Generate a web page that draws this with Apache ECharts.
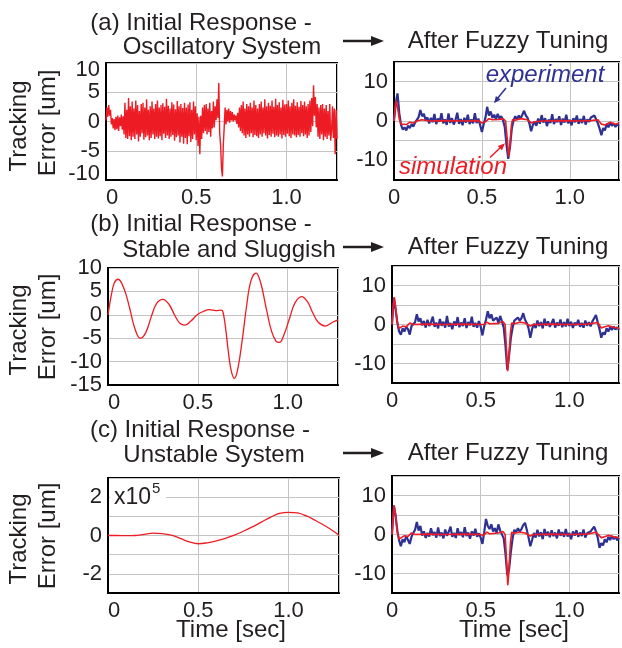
<!DOCTYPE html>
<html>
<head>
<meta charset="utf-8">
<script src="https://cdn.jsdelivr.net/npm/echarts@6/dist/echarts.min.js"></script>
<style>
  html, body { margin: 0; padding: 0; background: #fff; }
  #chart { width: 622px; height: 648px; }
</style>
</head>
<body>
<div id="chart"></div>
<script>
// ---- data ----
var STEP_A = 0.005;   // sampling of the initial oscillatory response
var STEP_EXP = 0.01;  // sampling of the experiment traces

// (a) initial response - oscillatory system [um]
var initOsc = [
  0.2, 2.4, 0.8, 2.8, 1.0, 2.0, -0.5, 0.6, -1.2, 0.4,
  -1.5, 0.8, -1.3, 1.0, -1.6, 0.7, -0.8, 1.2, -1.4, 0.9,
  -2.2, 3.2, -2.8, 2.0, -3.0, 4.0, -2.5, 2.6, -3.2, 3.4,
  -2.6, 2.2, -3.0, 3.6, -2.2, 2.8, -3.4, 1.8, -2.6, 3.0,
  -2.0, 3.2, -3.1, 2.4, -2.7, 3.8, -2.4, 2.0, -3.2, 2.6,
  -2.8, 3.4, -2.2, 2.2, -3.0, 3.0, -2.6, 3.6, -2.9, 2.4,
  -2.5, 2.8, -3.2, 3.1, -2.1, 2.5, -2.8, 3.9, -2.4, 2.7,
  -3.0, 2.2, -2.6, 3.3, -2.3, 2.9, -3.3, 2.1, -2.7, 3.5,
  -2.4, 2.6, -3.6, 3.0, -2.6, 2.3, -3.8, 3.2, -2.8, 2.4,
  -3.9, 2.9, -2.5, 3.3, -3.5, 2.0, -3.0, 3.4, -2.2, 2.6,
  -3.2, 1.4, -4.2, 0.8, -5.6, 1.0, -3.0, 2.4, -2.0, 2.8,
  -1.6, 3.0, -2.2, 2.2, -1.8, 3.2, -2.6, 1.8, -1.2, 3.4,
  -1.0, 2.6, 0.2, 3.8, 0.6, 6.6, -2.0, -4.0, -8.0, -9.4,
  -4.0, -1.0, 2.4, -0.5, 2.0, 0.0, 2.2, -0.2, 1.8, 0.2,
  1.6, 0.0, 1.2, 0.2, 1.0, -0.4, 1.5, -1.0, 2.4, -1.6,
  2.8, -2.0, 3.4, -2.4, 2.2, -2.8, 3.0, -2.2, 2.6, -2.6,
  3.2, -2.0, 2.4, -2.7, 3.6, -2.3, 2.8, -2.5, 2.2, -2.8,
  3.0, -2.2, 3.4, -2.6, 2.4, -2.0, 3.8, -2.4, 2.6, -2.9,
  3.2, -2.3, 2.7, -2.6, 3.6, -2.1, 2.5, -2.7, 3.9, -2.4,
  2.8, -2.6, 3.3, -2.2, 2.4, -2.9, 3.7, -2.3, 2.9, -2.6,
  3.0, -2.1, 3.6, -2.5, 2.6, -2.8, 3.2, -2.2, 3.8, -2.4,
  2.7, -2.7, 3.3, -2.3, 2.5, -2.6, 3.5, -2.0, 2.8, -2.5,
  3.4, -2.2, 2.6, -2.8, 3.0, -2.4, 3.6, -1.8, 4.0, -0.8,
  6.2, 1.0, 4.2, -1.0, 3.0, -2.6, 2.4, -3.0, 2.8, -2.2,
  3.0, -3.2, 2.2, -2.6, 2.8, -3.0, 1.8, -2.4, 3.0, -3.3,
  -1.6, 2.6, -2.8, 2.2, -5.6, 2.0, -3.0
];

// (b) initial response - stable and sluggish [time, um]
var initSluggish = [
  [0, 0], [0.02, 4.5], [0.035, 6.8], [0.056, 7.6], [0.09, 5.5], [0.12, 1.5],
  [0.15, -3.0], [0.18, -5.0], [0.21, -3.8], [0.24, -0.5], [0.27, 2.4],
  [0.305, 3.3], [0.34, 2.2], [0.37, 0], [0.40, -1.8], [0.43, -2.2],
  [0.46, -1.4], [0.5, 0.1], [0.53, 0.7], [0.565, 1.1], [0.6, 0.9],
  [0.63, 1.0], [0.64, 0.6], [0.655, -3], [0.67, -8], [0.685, -11.8],
  [0.703, -13.6], [0.72, -12], [0.745, -6], [0.77, 1.5], [0.795, 7.2],
  [0.824, 8.9], [0.85, 6.8], [0.88, 1.5], [0.91, -3.5], [0.935, -5.6],
  [0.954, -5.9], [0.98, -4.2], [1.01, -0.8], [1.04, 2.5], [1.078, 3.9],
  [1.11, 2.8], [1.14, 0.4], [1.17, -1.6], [1.21, -2.4], [1.25, -1.6],
  [1.28, -1.1]
];

// (c) initial response - unstable system [time, x10^5 um]
var initUnstable = [
  [0, 0], [0.05, 0], [0.1, -0.01], [0.15, 0], [0.2, 0.06], [0.25, 0.12],
  [0.3, 0.1], [0.35, 0.02], [0.4, -0.15], [0.45, -0.33], [0.5, -0.43],
  [0.55, -0.38], [0.6, -0.28], [0.65, -0.15], [0.7, 0.02], [0.75, 0.22],
  [0.8, 0.45], [0.85, 0.7], [0.9, 0.95], [0.95, 1.15], [1.0, 1.21],
  [1.05, 1.18], [1.1, 1.02], [1.15, 0.78], [1.2, 0.52], [1.25, 0.22],
  [1.28, 0]
];

// after fuzzy tuning: experiment traces [um], one value per STEP_EXP
var expA = [
  0, 4.5, 7.0, 2.0, -1.0, -2.2, -1.6, -2.4, -1.2, -1.8,
  -0.8, -1.4, -0.4, -0.9, 1.0, 2.8, 1.2, 1.8, 0.2, 0.9,
  -0.6, 0.8, -0.3, 1.8, -0.8, 0.6, -0.2, 2.0, -0.6, 0.4,
  -1.0, 1.9, -0.5, 0.7, -0.9, 0.3, 2.1, -0.7, 0.5, -1.1,
  0.8, -0.4, 1.6, -0.8, 0.4, -0.6, 2.0, -0.5, 0.6, -1.0,
  -2.8, -0.8, 0.8, 3.6, 1.4, 2.4, 0.8, 1.6, 0.4, 1.8,
  0.6, 1.2, 0.2, -1.5, -6.0, -9.6, -6.5, -2.0, 0.2, 1.2,
  0.4, 1.4, 0.6, 1.6, 2.6, 1.4, 0.8, -0.6, -2.6, -1.0,
  -0.2, -1.2, 0.6, -0.7, 1.5, -0.4, 0.7, -1.3, 0.4, -0.5,
  1.7, -0.8, 0.5, -0.3, 1.2, -1.0, 0.6, -0.4, 1.6, -0.6,
  0.3, -1.1, 0.7, -0.3, 1.4, -0.7, 0.5, -0.5, 1.3, -0.9,
  0.4, -0.2, 0.9, 0.5, 1.4, 1.0, -0.6, -2.0, -3.6, -1.8,
  -2.4, -0.8, -1.6, -0.4, -1.2, -0.6, -1.5, -0.8, -1.2
];
var expB = [
  0, 6.8, 4.0, 0.5, -1.8, -2.6, -1.0, -1.8, -0.6, -1.2,
  -2.6, -0.4, -0.9, 0.6, 2.6, 0.8, 1.6, -0.2, 0.9, -0.8,
  1.2, -0.4, 0.6, 2.0, -0.6, 0.5, -1.0, 1.4, -0.3, 0.7,
  -0.8, 2.2, -0.5, 0.4, -1.2, 0.8, -0.3, 1.9, -0.7, 0.5,
  -0.4, 1.6, -0.9, 0.6, -0.2, 2.0, -0.6, 0.4, -0.8, 0.9,
  -0.5, -2.8, -0.4, 1.2, 3.4, 1.6, 2.6, 1.0, 0.6, 1.8,
  0.4, 2.2, 0.8, -0.8, -5.5, -11.6, -8.0, -3.5, -0.8, 1.0,
  0.6, 1.8, 1.0, 1.6, 2.9, 1.2, 0.4, -1.0, -3.4, -1.2,
  0.2, -0.9, 1.0, -0.4, 0.6, -1.0, 1.5, -0.3, 0.8, -0.6,
  0.4, 1.4, -0.8, 0.5, -0.3, 1.3, -0.7, 0.6, -0.5, 1.5,
  -0.4, 0.7, -0.9, 0.5, -0.2, 1.2, -0.6, 0.4, -0.8, 1.0,
  -0.3, 0.6, -0.5, 0.8, 1.6, 2.4, 0.6, -1.2, -3.4, -2.0,
  -2.6, -1.0, -1.8, -0.6, -1.4, -0.5, -1.3, -0.7, -1.4
];
var expC = [
  0, 7.4, 5.0, 1.0, -1.5, -3.0, -1.2, -2.0, -0.4, -1.4,
  -2.4, -0.6, 0.4, 1.2, 3.2, 1.0, 2.2, -0.3, 0.8, -0.9,
  0.4, -0.5, 1.6, -0.2, 0.6, -0.8, 1.8, -0.4, 0.5, -1.0,
  1.3, -0.3, 0.7, 2.0, -0.6, 0.4, -0.9, 1.6, -0.2, 0.6,
  -0.7, 1.9, -0.4, 0.5, -1.1, 0.8, -0.3, 1.5, -0.6, 0.3,
  -0.8, -2.4, 0.6, 4.0, 2.2, 1.4, 2.6, 0.8, 1.6, 0.4,
  2.6, 1.0, 0.6, -1.0, -5.0, -10.4, -9.0, -4.5, -1.0, 1.2,
  0.6, 1.6, 0.8, 1.4, 2.4, 3.0, 1.2, -0.8, -3.0, -1.4,
  0.4, -0.8, 1.2, -0.5, 0.6, -1.2, 1.4, -0.3, 0.7, -0.7,
  1.1, -0.4, 0.5, -1.0, 1.3, -0.3, 0.6, -0.6, 1.4, -0.5,
  0.4, -1.2, 0.8, -0.3, 1.1, -0.6, 0.5, -0.4, 1.3, -0.8,
  0.3, -0.2, 0.8, 1.2, 2.0, 0.8, -0.8, -3.4, -2.2, -2.8,
  -1.2, -2.0, -0.6, -1.4, -0.4, -1.2, -0.6, -1.5, -0.9
];

// after fuzzy tuning: simulation traces [time, um]
var simA = [
  [0, 0], [0.005, 2.5], [0.012, 5.2], [0.02, 3.5], [0.03, 0.5], [0.04, -0.8],
  [0.05, -0.6], [0.07, -0.9], [0.09, -0.3], [0.11, -0.5], [0.13, 0], [0.16, 0.3],
  [0.2, 0], [0.3, 0.1], [0.4, 0], [0.48, 0.1], [0.5, -0.5], [0.52, -0.2],
  [0.54, 0.6], [0.56, 0.3], [0.6, 0.4], [0.62, 0.6], [0.635, 0], [0.645, -5],
  [0.652, -9], [0.66, -6], [0.668, -1], [0.675, 0.4], [0.69, 0.2], [0.72, 0.6],
  [0.76, 0.3], [0.78, -0.5], [0.8, -0.2], [0.85, 0], [0.95, 0.1], [1.05, 0],
  [1.12, 0.1], [1.16, 0.3], [1.18, -0.8], [1.2, -1.0], [1.23, -0.3], [1.26, -0.8],
  [1.28, -0.5]
];
var simB = [
  [0, 0], [0.006, 4], [0.013, 7], [0.02, 4.5], [0.03, 0.5], [0.04, -1.0],
  [0.05, -0.7], [0.06, -0.4], [0.08, -0.6], [0.1, 0.4], [0.12, 0], [0.2, 0.1],
  [0.3, 0], [0.4, 0.1], [0.5, 0], [0.52, 0], [0.535, 0.6], [0.55, 0.2],
  [0.6, 0.3], [0.625, 0.8], [0.638, 0], [0.645, -6], [0.652, -12], [0.66, -8],
  [0.668, -2], [0.675, 0.4], [0.69, 0.2], [0.72, 0.6], [0.75, 0.4], [0.78, -0.4],
  [0.8, 0], [0.9, 0.1], [1.0, 0], [1.1, 0.1], [1.16, 0.5], [1.18, -0.9],
  [1.2, -0.6], [1.22, -0.3], [1.25, -0.7], [1.28, -1.0]
];
var simC = [
  [0, 0], [0.006, 4], [0.012, 7.5], [0.02, 5], [0.03, 0.5], [0.04, -1.2],
  [0.05, -0.8], [0.07, -0.3], [0.09, -0.5], [0.11, 0.4], [0.13, 0], [0.2, 0.1],
  [0.3, 0], [0.4, 0.1], [0.5, 0], [0.515, -0.3], [0.535, 0.6], [0.55, 0.2],
  [0.6, 0.4], [0.625, 0.8], [0.638, 0], [0.645, -6], [0.653, -13], [0.66, -9],
  [0.668, -2], [0.675, 0.6], [0.69, 0.3], [0.72, 0.6], [0.75, 0.4], [0.78, -0.4],
  [0.8, 0], [0.9, 0.1], [1.0, 0], [1.1, 0.1], [1.15, 0.6], [1.18, -0.8],
  [1.2, -0.6], [1.22, -0.2], [1.25, -0.6], [1.28, -0.8]
];

var xTickLabels = { 0: '0', 0.5: '0.5', 1: '1.0' };

// ---- styling ----
var RED = '#ed1c24';
var BLUE = '#2e3192';
var INK = '#231f20';
var FONT = 'Liberation Sans, Arial, sans-serif';

function sampled(values, step) {
  return values.map(function (v, i) { return [+(i * step).toFixed(4), v]; });
}

var grids = [
  { left: 106, top: 63, width: 231, height: 117 },   // a left
  { left: 394, top: 62, width: 230, height: 118 },   // a right
  { left: 108, top: 268, width: 230, height: 117 },  // b left
  { left: 392, top: 266, width: 230, height: 117 },  // b right
  { left: 108, top: 478, width: 231, height: 115 },  // c left
  { left: 392, top: 476, width: 230, height: 117 }   // c right
].map(function (g) {
  return Object.assign({ show: true, borderColor: '#000', borderWidth: 2, backgroundColor: 'transparent' }, g);
});

function xAxis(i, leftCol) {
  return {
    type: 'value', gridIndex: i, min: 0, max: 1.28, interval: 0.5,
    axisLine: { show: true, onZero: false, lineStyle: { color: '#000', width: 2 } },
    axisTick: { show: false },
    splitLine: { show: true, lineStyle: { color: '#c4c4c4', width: 1 } },
    axisLabel: {
      fontSize: 22, color: INK, fontFamily: FONT, margin: 7,
      alignMinLabel: leftCol ? 'left' : 'center',
      formatter: function (v) { return xTickLabels[v] !== undefined ? xTickLabels[v] : ''; }
    }
  };
}

function yAxis(i, min, max, interval, labelEvery) {
  return {
    type: 'value', gridIndex: i, min: min, max: max, interval: interval,
    axisLine: { show: true, onZero: false, lineStyle: { color: '#000', width: 2 } },
    axisTick: { show: false },
    splitLine: { show: true, lineStyle: { color: '#c4c4c4', width: 1 } },
    axisLabel: {
      fontSize: 22, color: INK, fontFamily: FONT, margin: 6,
      showMinLabel: true, showMaxLabel: true,
      formatter: function (v) { return Math.abs(v % labelEvery) < 1e-9 ? String(v) : ''; }
    }
  };
}

// panel (a) left: the edge labels sit a little inside the frame
var yOsc = yAxis(0, -10, 10, 5, 5);
var edgeStyle = { fontSize: 22, color: INK, fontFamily: FONT };
yOsc.axisLabel.formatter = function (v) {
  if (v === 10) return '{dn|10}';
  if (v === -10) return '{up|-10}';
  return String(v);
};
yOsc.axisLabel.rich = {
  dn: Object.assign({ padding: [14, 0, 0, 0] }, edgeStyle),
  up: Object.assign({ padding: [0, 0, 12, 0] }, edgeStyle)
};

function line(i, data, color, width, z) {
  return {
    type: 'line', xAxisIndex: i, yAxisIndex: i, data: data,
    showSymbol: false, symbol: 'none', z: z || 2,
    lineStyle: { color: color, width: width }
  };
}

function txt(x, y, s, opts) {
  opts = opts || {};
  return {
    type: 'text', x: x, y: y, z: 100, rotation: opts.rotation || 0,
    style: {
      text: s, fill: opts.fill || INK,
      font: (opts.italic ? 'italic ' : '') + (opts.size || 24) + 'px ' + FONT,
      textAlign: opts.align || 'center', textVerticalAlign: 'middle'
    }
  };
}

function bigArrow(y) {
  return [
    { type: 'line', z: 100, shape: { x1: 343, y1: y, x2: 373, y2: y }, style: { stroke: INK, lineWidth: 2.5 } },
    { type: 'polygon', z: 100, shape: { points: [[384, y], [371, y - 5], [371, y + 5]] }, style: { fill: INK } }
  ];
}

var graphics = [
  // titles, left column
  txt(201, 23, '(a) Initial Response -'),
  txt(222, 47, 'Oscillatory System'),
  txt(201, 224, '(b) Initial Response -'),
  txt(229, 250, 'Stable and Sluggish'),
  txt(200, 430, '(c) Initial Response -'),
  txt(214, 455, 'Unstable System'),
  // titles, right column
  txt(508, 41, 'After Fuzzy Tuning'),
  txt(508, 247, 'After Fuzzy Tuning'),
  txt(508, 453, 'After Fuzzy Tuning'),
  // y axis names
  txt(19, 126, 'Tracking', { rotation: Math.PI / 2 }),
  txt(48, 123, 'Error [um]', { rotation: Math.PI / 2 }),
  txt(19, 330, 'Tracking', { rotation: Math.PI / 2 }),
  txt(48, 327, 'Error [um]', { rotation: Math.PI / 2 }),
  txt(19, 539, 'Tracking', { rotation: Math.PI / 2 }),
  txt(48, 536, 'Error [um]', { rotation: Math.PI / 2 }),
  // x axis names
  txt(231, 630, 'Time [sec]'),
  txt(514, 630, 'Time [sec]'),
  // x10^5 multiplier
  { type: 'rect', z: 99, shape: { x: 110, y: 484, width: 56, height: 24 }, style: { fill: '#fff' } },
  txt(114, 498, 'x10', { align: 'left', size: 23 }),
  txt(152, 489, '5', { align: 'left', size: 15 }),
  // annotations
  txt(545, 75, 'experiment', { italic: true, fill: BLUE }),
  txt(453, 167, 'simulation', { italic: true, fill: RED }),
  { type: 'line', z: 100, shape: { x1: 506, y1: 88, x2: 497, y2: 99 }, style: { stroke: BLUE, lineWidth: 1.5 } },
  { type: 'polygon', z: 100, shape: { points: [[494, 103.3], [500.7, 99.6], [495.9, 95.9]] }, style: { fill: BLUE } },
  { type: 'line', z: 100, shape: { x1: 490, y1: 157.5, x2: 501, y2: 147 }, style: { stroke: RED, lineWidth: 1.5 } },
  { type: 'polygon', z: 100, shape: { points: [[505, 143.3], [502.0, 150.3], [497.8, 145.9]] }, style: { fill: RED } }
].concat(bigArrow(41)).concat(bigArrow(247)).concat(bigArrow(453));

var option = {
  animation: false,
  backgroundColor: '#fff',
  grid: grids,
  xAxis: [xAxis(0, true), xAxis(1, false), xAxis(2, true), xAxis(3, false), xAxis(4, true), xAxis(5, false)],
  yAxis: [
    yOsc,
    yAxis(1, -15, 15, 5, 10),
    yAxis(2, -15, 10, 5, 5),
    yAxis(3, -15, 15, 5, 10),
    yAxis(4, -3, 3, 1, 2),
    yAxis(5, -15, 15, 5, 10)
  ],
  series: [
    line(0, sampled(initOsc, STEP_A), RED, 1.4),
    line(1, sampled(expA, STEP_EXP), BLUE, 2.2),
    line(1, simA, RED, 1.6, 3),
    Object.assign(line(2, initSluggish, RED, 1.3), { smooth: 0.4 }),
    line(3, sampled(expB, STEP_EXP), BLUE, 2.2),
    line(3, simB, RED, 1.6, 3),
    Object.assign(line(4, initUnstable, RED, 1.3), { smooth: 0.4 }),
    line(5, sampled(expC, STEP_EXP), BLUE, 2.2),
    line(5, simC, RED, 1.6, 3)
  ],
  graphic: graphics
};

var myChart = echarts.init(document.getElementById('chart'));
myChart.setOption(option);
</script>
</body>
</html>
